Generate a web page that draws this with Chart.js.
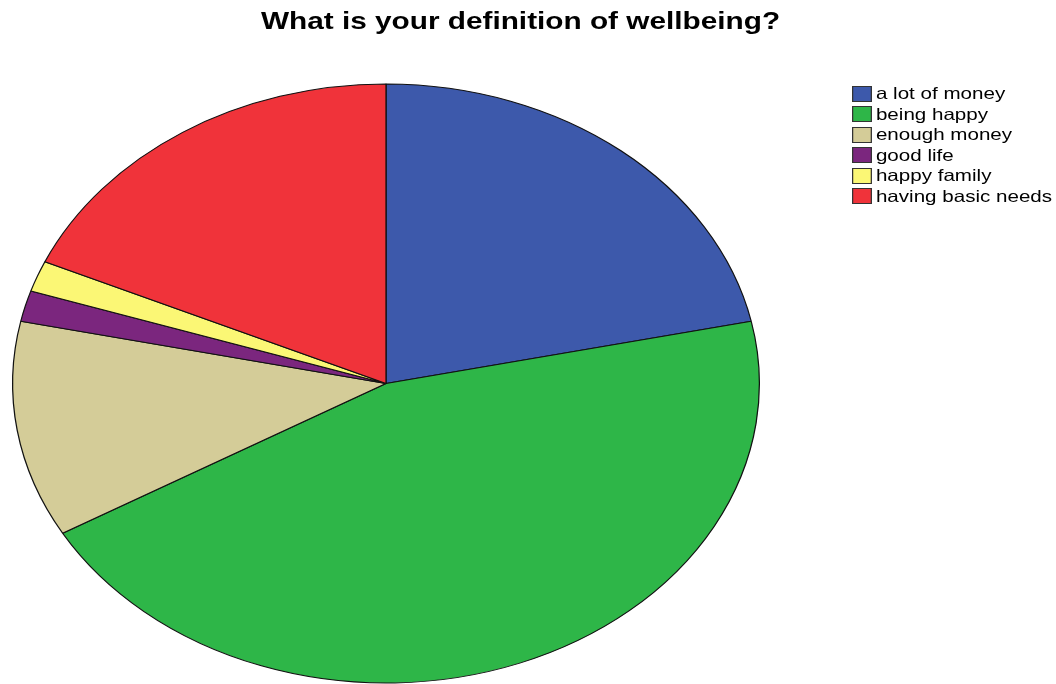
<!DOCTYPE html>
<html>
<head>
<meta charset="utf-8">
<script src="https://cdn.jsdelivr.net/npm/chart.js@4"></script>
<style>
    body { margin: 0; background: #fff; font-family: "Liberation Sans", Arial, sans-serif; }
    #wrap { position: relative; width: 1056px; height: 684px; overflow: hidden; }
    #myChart { position: absolute; left: 0; top: 0; }
    .title {
        position: absolute; left: 0; width: 1041px; top: 6px; line-height: 30px;
        text-align: center; font-weight: bold; font-size: 24px; color: #000;
        transform: scaleX(1.24); transform-origin: 520.5px 0;
    }
    .legend { position: absolute; left: 852px; top: 83.5px; transform: scaleX(1.247); transform-origin: 0 0; }
    .legend div { display: flex; align-items: center; height: 20.5px; font-size: 16.5px; white-space: nowrap; color: #000; }
    .legend span {
        display: inline-block; width: 14px; height: 14px; border: 1px solid #333;
        margin-right: 3.2px; flex: none;
    }
</style>
</head>
<body>
<div id="wrap">
    <canvas id="myChart" width="1056" height="684"></canvas>
    <div class="title" id="title"></div>
    <div class="legend" id="legend"></div>
</div>
<script>
const titleText = "What is your definition of wellbeing?";
const labels = ["a lot of money", "being happy", "enough money", "good life", "happy family", "having basic needs"];
const counts = [13, 27, 7, 1, 1, 11];
const colors = ["#3d59ab", "#2eb648", "#d4cc98", "#7b267e", "#fbf775", "#f0333a"];

// picture is stretched sideways, so the pie is an ellipse
const stretchX = 374 / 300;

document.getElementById("title").textContent = titleText;

let elLegend = document.getElementById("legend");
labels.forEach((l, i) => {
    let row = document.createElement("div");
    let box = document.createElement("span");
    box.style.background = colors[i];
    row.appendChild(box);
    row.appendChild(document.createTextNode(l));
    elLegend.appendChild(row);
});

const stretchPlugin = {
    id: "stretch",
    beforeDatasetsDraw(chart) {
        const arc = chart.getDatasetMeta(0).data[0];
        const ctx = chart.ctx;
        ctx.save();
        ctx.translate(arc.x, arc.y);
        ctx.scale(stretchX, 1);
        ctx.translate(-arc.x, -arc.y);
    },
    afterDatasetsDraw(chart) {
        chart.ctx.restore();
    }
};

const data = {
    labels: labels,
    datasets: [{
        data: counts,
        backgroundColor: colors,
        borderColor: "#111",
        borderWidth: 1
    }]
};

const config = {
    type: "pie",
    data: data,
    options: {
        responsive: false,
        animation: false,
        layout: { padding: { left: 86, right: 370, top: 83, bottom: 0 } },
        plugins: {
            legend: { display: false },
            title: { display: false },
            tooltip: { enabled: false }
        }
    },
    plugins: [stretchPlugin]
};

let myChart = new Chart(document.getElementById("myChart"), config);
</script>
</body>
</html>
